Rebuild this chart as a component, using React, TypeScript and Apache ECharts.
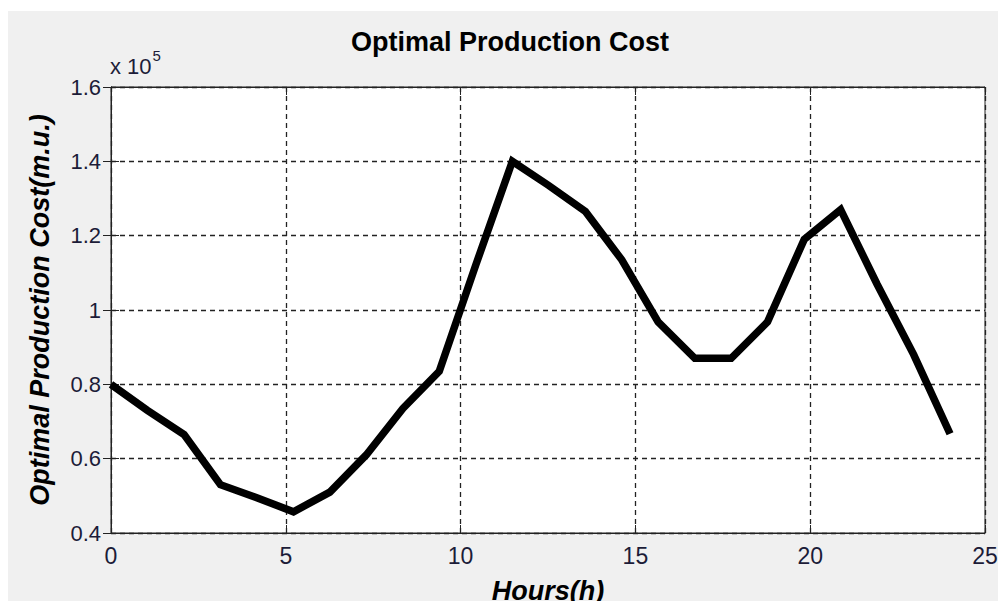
import React, { useEffect, useRef } from "react";
import * as echarts from "echarts";

const hours = [0, 1.04, 2.09, 3.13, 4.17, 5.22, 6.26, 7.3, 8.35, 9.39, 10.43, 11.48, 12.52, 13.57, 14.61, 15.65, 16.7, 17.74, 18.78, 19.83, 20.87, 21.91, 22.96, 24];
const cost = [80000, 73000, 66500, 53000, 49500, 45700, 51000, 61000, 73500, 83500, 112000, 140000, 133500, 126500, 113500, 96800, 87000, 87000, 96800, 119000, 127000, 107000, 88000, 66700];
const titleText = "Optimal Production Cost";
const xName = "Hours(h)";
const yName = "Optimal Production Cost(m.u.)";
const FONT = "'Liberation Sans', Arial, sans-serif";

export default function App() {
  const ref = useRef<HTMLDivElement>(null);
  useEffect(() => {
    document.body.style.margin = "0";
    document.body.style.overflow = "hidden";
    if (!ref.current) return;
    const chart = echarts.init(ref.current, null, { renderer: "svg" });
    const data = hours.map((h, i) => [h, cost[i]]);
    const axisLineStyle = { color: "#222", width: 1 };
    const gridLine = { show: true, lineStyle: { color: "#222", type: [5, 4] as any, width: 1.3 } };
    chart.setOption({
      animation: false,
      backgroundColor: "#f0f0f0",
      textStyle: { fontFamily: FONT },
      grid: {
        left: 103,
        top: 76,
        right: 13,
        bottom: 68,
        containLabel: false,
        outerBoundsMode: "none",
        show: true,
        backgroundColor: "#ffffff",
        borderColor: "#222",
        borderWidth: 1,
      } as any,
      graphic: [
        {
          type: "text",
          x: 502,
          y: 31,
          style: {
            text: titleText,
            font: `bold 27px ${FONT}`,
            fill: "#000",
            align: "center",
            verticalAlign: "middle",
          },
        },
        {
          type: "text",
          x: 102,
          y: 66,
          style: {
            text: "{a|x 10}{b|5}",
            rich: {
              a: { fontSize: 22, fontFamily: FONT, fill: "#1c1c38", verticalAlign: "bottom" },
              b: { fontSize: 15, fontFamily: FONT, fill: "#1c1c38", verticalAlign: "top", padding: [0, 0, 14, 1] },
            },
            verticalAlign: "bottom",
          } as any,
        },
      ],
      xAxis: [
        {
          type: "value",
          min: 0,
          max: 25,
          interval: 5,
          name: xName,
          nameLocation: "middle",
          nameGap: 44,
          nameTextStyle: { fontSize: 27, fontWeight: "bold", fontStyle: "italic", color: "#000", fontFamily: FONT },
          axisLine: { show: true, lineStyle: axisLineStyle },
          axisTick: { show: true, inside: true, length: 8, lineStyle: axisLineStyle },
          axisLabel: { fontSize: 23, color: "#1c1c38", margin: 11, fontFamily: FONT },
          splitLine: gridLine,
        },
        {
          type: "value",
          position: "top",
          min: 0,
          max: 25,
          interval: 5,
          axisLine: { show: true, lineStyle: axisLineStyle },
          axisTick: { show: true, inside: true, length: 8, lineStyle: axisLineStyle },
          axisLabel: { show: false },
          splitLine: { show: false },
        },
      ],
      yAxis: [
        {
          type: "value",
          min: 40000,
          max: 160000,
          interval: 20000,
          name: yName,
          nameLocation: "middle",
          nameGap: 58,
          nameTextStyle: { fontSize: 27, fontWeight: "bold", fontStyle: "italic", color: "#000", fontFamily: FONT },
          axisLine: { show: true, lineStyle: axisLineStyle },
          axisTick: { show: true, inside: true, length: 8, lineStyle: axisLineStyle },
          axisLabel: {
            fontSize: 22,
            color: "#1c1c38",
            margin: 10,
            fontFamily: FONT,
            formatter: (v: number) => String(Math.round(v / 1e4) / 10),
          },
          splitLine: gridLine,
        },
        {
          type: "value",
          position: "right",
          min: 40000,
          max: 160000,
          interval: 20000,
          axisLine: { show: true, lineStyle: axisLineStyle },
          axisTick: { show: true, inside: true, length: 8, lineStyle: axisLineStyle },
          axisLabel: { show: false },
          splitLine: { show: false },
        },
      ],
      series: [
        {
          type: "line",
          data,
          xAxisIndex: 0,
          yAxisIndex: 0,
          symbol: "none",
          lineStyle: { color: "#000", width: 7.5, join: "miter" },
        },
      ],
    });
    return () => chart.dispose();
  }, []);
  return (
    <div style={{ position: "relative", width: 998, height: 601, background: "#ffffff", overflow: "hidden" }}>
      <div ref={ref} style={{ position: "absolute", left: 8, top: 11, width: 990, height: 590 }} />
    </div>
  );
}
